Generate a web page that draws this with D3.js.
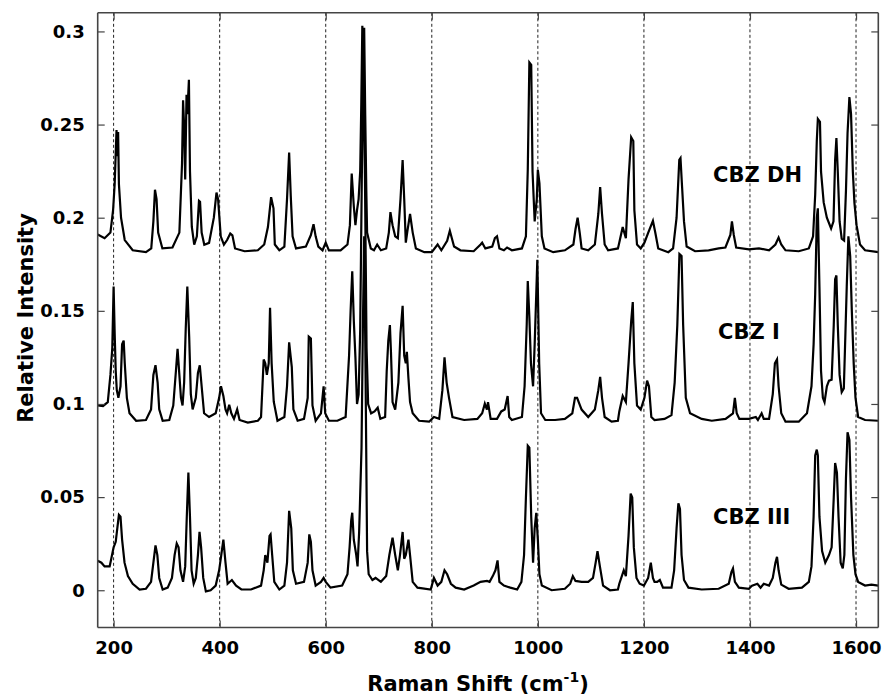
<!DOCTYPE html>
<html><head><meta charset="utf-8">
<script src="https://cdn.jsdelivr.net/npm/d3@7"></script>
<style>
body{margin:0;background:#fff;}
text{font-family:"DejaVu Sans",sans-serif;font-weight:bold;fill:#000;}
</style></head>
<body>
<svg id="chart" width="884" height="695"></svg>
<script>
const xTicks = [200,400,600,800,1000,1200,1400,1600];
const yTicks = [0,0.05,0.1,0.15,0.2,0.25,0.3];
const yTickLabels = ["0","0.05","0.1","0.15","0.2","0.25","0.3"];
const seriesNames = ["CBZ DH","CBZ I","CBZ III"];
const labelPos = [[713,0.2232],[718,0.139],[713,0.0395]]; // [x-pixel-left, y-value] anchor of label text

const cbzDH = [[170,0.191],[183,0.189],[194,0.192],[199,0.204],[202,0.218],[204,0.235],[205.5,0.247],[207,0.233],[208.5,0.246],[210,0.218],[214,0.2],[221,0.188],[236,0.1825],[261,0.1815],[271,0.1835],[275,0.198],[278,0.215],[281,0.21],[284,0.192],[292,0.1835],[311,0.184],[324,0.192],[329,0.229],[331,0.263],[333,0.249],[335,0.2205],[337.5,0.266],[339,0.2555],[342,0.274],[344,0.225],[347.5,0.195],[352,0.1855],[357,0.19],[361,0.209],[363,0.2085],[366,0.192],[371,0.1855],[380,0.1865],[389,0.2],[394,0.2135],[397,0.21],[402,0.19],[408,0.1855],[414,0.188],[420,0.1915],[424,0.1905],[429,0.1835],[447,0.182],[472,0.1825],[484,0.1856],[491,0.195],[497,0.211],[501.5,0.205],[504,0.1856],[512.5,0.1825],[522,0.1845],[527,0.21],[531,0.235],[534,0.212],[537.5,0.19],[544,0.1835],[562.5,0.1845],[572,0.1907],[577,0.1965],[581,0.19],[586,0.1845],[594,0.1825],[600,0.1866],[606,0.1825],[628,0.1825],[641,0.1856],[645.6,0.196],[649,0.2237],[653,0.206],[656,0.196],[659,0.204],[662,0.21],[665,0.225],[667,0.26],[669,0.303],[671,0.29],[672.5,0.302],[674.5,0.255],[676.5,0.215],[678,0.192],[685,0.1835],[691,0.1825],[697,0.1856],[704,0.1825],[714,0.1835],[719,0.192],[722,0.203],[726,0.196],[731,0.19],[736,0.189],[741,0.21],[745,0.231],[748,0.21],[751,0.1866],[754,0.1928],[759,0.202],[764,0.192],[770,0.1835],[786,0.1815],[800,0.1815],[811,0.1856],[818,0.1825],[829,0.1876],[834,0.193],[842,0.1845],[854,0.1825],[879,0.182],[892,0.1856],[895,0.1866],[901,0.1835],[914,0.1845],[919,0.189],[923,0.19],[927.5,0.1835],[936,0.1825],[942,0.184],[951,0.1825],[970,0.1835],[977.5,0.19],[981,0.2257],[984,0.2833],[987.5,0.282],[990,0.2247],[994,0.198],[998,0.21],[1000,0.2257],[1003,0.2185],[1007.5,0.19],[1012.5,0.1835],[1029,0.1815],[1051,0.1825],[1067,0.1856],[1071,0.1938],[1075,0.2],[1079,0.1918],[1082.5,0.1835],[1095,0.1825],[1107.5,0.1856],[1114,0.202],[1117.5,0.2165],[1121,0.202],[1126,0.1856],[1132.5,0.1825],[1151,0.1835],[1153.5,0.1866],[1160,0.195],[1166,0.189],[1171,0.2206],[1176,0.2432],[1180,0.2412],[1182,0.204],[1187,0.1856],[1194,0.1835],[1201,0.1866],[1208,0.1918],[1217,0.1983],[1221.6,0.1918],[1227,0.1835],[1246,0.1815],[1255,0.1835],[1261.6,0.2],[1266.7,0.231],[1269,0.232],[1272,0.2165],[1275.6,0.198],[1280.6,0.1845],[1296.5,0.182],[1322,0.1825],[1341,0.1835],[1353.7,0.184],[1363,0.1907],[1366,0.198],[1369.5,0.1907],[1374,0.184],[1398,0.183],[1417,0.1835],[1436,0.1825],[1448,0.1856],[1454,0.1893],[1459,0.1856],[1467,0.1825],[1492,0.182],[1511,0.1835],[1519,0.19],[1523,0.2123],[1526,0.2412],[1528,0.253],[1532,0.2514],[1534,0.2247],[1539,0.2082],[1545,0.2],[1553,0.1942],[1557.5,0.198],[1560.6,0.231],[1563,0.2428],[1565.6,0.2247],[1569,0.198],[1573,0.1887],[1577.5,0.1877],[1581,0.2144],[1584,0.2453],[1587.5,0.2648],[1590.6,0.2556],[1594,0.2247],[1597,0.208],[1601,0.196],[1607.5,0.1856],[1617,0.1825],[1642,0.1815]];

const cbzI = [[170,0.0992],[180,0.0988],[189,0.101],[194,0.1156],[197.5,0.13],[200,0.163],[202,0.138],[204,0.1177],[206,0.1074],[209,0.1033],[213,0.1095],[216,0.132],[219,0.134],[221,0.122],[225,0.1033],[230,0.095],[242.5,0.091],[261,0.0914],[270.6,0.0971],[275,0.1156],[279,0.1208],[283,0.1115],[286,0.0971],[292.5,0.091],[305,0.0914],[312.5,0.0992],[317.5,0.1177],[320.6,0.1296],[324,0.1156],[327,0.1033],[330,0.0992],[333,0.1115],[336,0.1403],[339,0.163],[342.5,0.1362],[345.6,0.1053],[349,0.0971],[355,0.1033],[359,0.1167],[362.5,0.1208],[366,0.1095],[370.6,0.095],[380,0.093],[392.5,0.095],[399,0.1033],[402.5,0.1095],[407,0.1043],[411,0.0971],[414,0.095],[418,0.0996],[422,0.095],[427,0.092],[433,0.0971],[437.5,0.0914],[453,0.09],[472,0.091],[478,0.093],[483,0.1239],[486,0.1218],[489,0.1156],[492.5,0.1218],[495,0.1516],[498,0.1218],[502,0.1012],[509,0.091],[522,0.093],[527,0.1095],[531,0.1331],[536,0.1198],[539,0.0971],[547,0.091],[559,0.092],[566,0.1033],[568,0.1362],[572,0.1352],[575,0.0992],[581,0.091],[591,0.095],[596,0.1095],[599,0.095],[606,0.091],[622,0.091],[637.5,0.093],[644,0.1259],[647,0.1506],[650,0.1712],[653,0.1444],[656,0.125],[659,0.1],[662,0.105],[665,0.14],[668,0.22],[671,0.29],[674,0.22],[677,0.13],[680,0.1],[685.6,0.095],[692,0.096],[698,0.098],[703,0.092],[712,0.093],[715,0.1177],[718,0.134],[721,0.1424],[723,0.128],[726,0.101],[731,0.097],[737,0.1115],[741,0.138],[745,0.1527],[748,0.126],[751,0.1218],[753,0.128],[756,0.1136],[759,0.101],[764,0.095],[776,0.091],[795,0.0905],[804,0.093],[814,0.092],[820,0.1074],[824,0.125],[828,0.1115],[832.5,0.1033],[839,0.093],[861,0.0914],[886,0.092],[895,0.095],[900,0.1002],[904,0.097],[906,0.101],[911,0.092],[923,0.092],[931,0.096],[937.5,0.097],[943,0.1043],[946,0.093],[951,0.0914],[970,0.093],[975,0.1095],[979,0.1424],[981,0.166],[984,0.1465],[987,0.1218],[991,0.1095],[994,0.132],[997,0.159],[999,0.1774],[1002.5,0.1218],[1006,0.095],[1014,0.0914],[1032.5,0.0914],[1051,0.092],[1065,0.095],[1070,0.1033],[1074,0.1033],[1082.5,0.097],[1095,0.093],[1107.5,0.097],[1114,0.1074],[1117.5,0.1146],[1121,0.1033],[1126,0.093],[1139,0.0905],[1151,0.091],[1153.6,0.096],[1160,0.1043],[1166,0.101],[1171,0.1218],[1176,0.1444],[1179,0.1547],[1182,0.1218],[1187,0.0992],[1194,0.097],[1201,0.1033],[1206,0.1125],[1209.5,0.1095],[1214,0.093],[1220,0.0914],[1239,0.092],[1252,0.094],[1258,0.1115],[1263,0.1424],[1267,0.1805],[1271,0.1794],[1274,0.1424],[1279,0.1033],[1287,0.095],[1309,0.092],[1328,0.091],[1354,0.092],[1368,0.095],[1371.5,0.1033],[1375,0.095],[1380,0.092],[1398,0.092],[1411,0.093],[1415,0.0914],[1422,0.095],[1426,0.092],[1436,0.092],[1443,0.1053],[1447,0.1218],[1451,0.1239],[1454,0.1095],[1459,0.095],[1467,0.0905],[1492,0.0905],[1507.5,0.095],[1516,0.1095],[1520,0.132],[1523,0.159],[1526,0.2],[1528,0.205],[1531,0.163],[1534,0.1177],[1537.5,0.1033],[1540.6,0.101],[1545,0.1095],[1549,0.1125],[1554,0.113],[1558,0.1424],[1560.6,0.167],[1563,0.169],[1565.6,0.1424],[1569,0.1156],[1573,0.1064],[1577,0.1084],[1579,0.128],[1582.5,0.163],[1585.6,0.19],[1589,0.1794],[1592,0.1506],[1595.6,0.1218],[1599,0.1033],[1604,0.093],[1617,0.0914],[1642,0.091]];

const cbzIII = [[170,0.0158],[177,0.0148],[183,0.0128],[192.5,0.0128],[195.6,0.0169],[200,0.023],[204,0.026],[207,0.0333],[210,0.0405],[213,0.0395],[216,0.0272],[220.6,0.0148],[227,0.0076],[236,0.0035],[249,0.0004],[261,0.0008],[270.6,0.0045],[275,0.0148],[279,0.0241],[282.5,0.0189],[286,0.0066],[292.5,0.0004],[302,0.0014],[310,0.0066],[315,0.0189],[319,0.0251],[322.5,0.023],[326,0.0107],[331,0.0045],[335,0.0128],[338,0.0395],[341,0.0632],[344,0.0395],[347,0.0107],[351,0.0035],[355,0.0066],[359,0.0189],[362,0.0313],[365,0.023],[369,0.0066],[374,-0.0006],[383,0],[392.5,0.0025],[399,0.0107],[403,0.0189],[407,0.0272],[411,0.0148],[415,0.0035],[423,0.0055],[431,0.0025],[441,0.0004],[459,0.0004],[478,0.0025],[483,0.0107],[486,0.0189],[490,0.0148],[494,0.0292],[496,0.03],[499,0.0189],[503,0.0045],[512.5,0.0004],[522,0.0025],[527,0.0148],[531,0.0426],[535,0.0333],[538,0.0107],[544,0.0035],[559,0.0045],[566,0.0148],[569,0.03],[572,0.026],[575,0.0107],[581,0.0025],[591,0.0045],[596,0.0066],[600,0.0045],[609,0.0014],[631,0.0025],[641,0.0086],[645,0.023],[648,0.0374],[650,0.0416],[653,0.027],[657.5,0.019],[660,0.0128],[663,0.0313],[667.5,0.0765],[670,0.14],[672.5,0.19],[675,0.12],[678,0.021],[681,0.0086],[688,0.0055],[694,0.0066],[704,0.0045],[714,0.0076],[720,0.0189],[726,0.0282],[731,0.0189],[736,0.0107],[740,0.0189],[745,0.0313],[748,0.0169],[751,0.0189],[756,0.0272],[759,0.0189],[764,0.0045],[773,0.0014],[798,0.0004],[804,0.0066],[811,0.0025],[818,0.0045],[824,0.0107],[829,0.0086],[836,0.0035],[845,0.0014],[861,0.0004],[879,0.0025],[892,0.0045],[904,0.005],[909,0.0045],[915,0.0076],[920,0.0107],[924,0.016],[927.5,0.0045],[936,0.0025],[948,0.0014],[961,0.0004],[969,0.0045],[974,0.0189],[977.5,0.0498],[981,0.0776],[984,0.0765],[987.5,0.0395],[991,0.0148],[994,0.0333],[997,0.0416],[1000,0.0272],[1003,0.0086],[1007.5,0.0025],[1026,0],[1051,0.0008],[1061,0.0035],[1066,0.0076],[1071,0.005],[1082.5,0.0045],[1095,0.0045],[1104,0.0066],[1109,0.0148],[1112.5,0.021],[1117,0.0128],[1123,0.0025],[1136,0],[1151,0.0004],[1153.6,0.0035],[1162,0.0107],[1166,0.0076],[1171,0.0292],[1175,0.0519],[1178,0.0498],[1181,0.023],[1186,0.0066],[1192,0.0035],[1200,0.0025],[1208,0.0066],[1213,0.0148],[1217,0.0066],[1220,0.0045],[1225,0.0045],[1230,0.0055],[1236,0.0014],[1252,0.0014],[1257,0.0107],[1261.6,0.0333],[1265,0.0467],[1268,0.0436],[1271,0.0189],[1275.6,0.0055],[1284,0.0014],[1309,0.0004],[1341,0.0008],[1360,0.0035],[1365,0.0097],[1368,0.0117],[1371.6,0.0045],[1379,0.0014],[1398,0.0008],[1404,0.0025],[1414,0.0035],[1420,0.0014],[1426,0.0035],[1436,0.0025],[1443,0.0066],[1448,0.0148],[1451,0.0179],[1454,0.0107],[1459,0.003],[1473,0.0008],[1498,0.0014],[1511,0.0045],[1516,0.0128],[1520,0.0395],[1523,0.0724],[1526,0.0755],[1528,0.0724],[1531,0.0395],[1536,0.021],[1542,0.0148],[1549,0.0189],[1554,0.023],[1558,0.0498],[1560.6,0.0683],[1564,0.0632],[1567,0.0395],[1571,0.0148],[1575,0.0117],[1578,0.0189],[1581,0.06],[1584,0.0848],[1587.5,0.0807],[1590.6,0.0498],[1595,0.0189],[1599,0.0086],[1604,0.0045],[1617,0.0025],[1629,0.003],[1642,0.0025]];

const series = [cbzDH, cbzI, cbzIII];

const svg = d3.select("#chart");
const L = 97.7, R = 878.3, T = 12.8, B = 627.5;
const x = d3.scaleLinear().domain([170, 1642]).range([L, R]);
const y = d3.scaleLinear().domain([-0.02, 0.31]).range([B, T]);

// grid
svg.append("g").selectAll("line").data(xTicks).join("line")
  .attr("x1", d => x(d)).attr("x2", d => x(d))
  .attr("y1", T).attr("y2", B)
  .attr("stroke", "#222").attr("stroke-width", 1).attr("stroke-dasharray", "3,2.5");

// spectra
const line = d3.line().x(d => x(d[0])).y(d => y(d[1]));
svg.append("g").selectAll("path").data(series).join("path")
  .attr("d", line).attr("fill", "none").attr("stroke", "#000")
  .attr("stroke-width", 2.2).attr("stroke-linejoin", "miter");

// axes (box with inward ticks)
const fmt = (d) => yTickLabels[yTicks.indexOf(d)];
const axL = d3.axisLeft(y).tickValues(yTicks).tickSize(-7).tickPadding(13).tickFormat(fmt);
const axR = d3.axisRight(y).tickValues(yTicks).tickSize(-7).tickFormat("");
const axB = d3.axisBottom(x).tickValues(xTicks).tickSize(-7).tickPadding(14).tickFormat(d3.format("d"));
const axT = d3.axisTop(x).tickValues(xTicks).tickSize(-7).tickFormat("");
function style(g){
  g.select(".domain").attr("stroke","#444").attr("stroke-width",1.6);
  g.selectAll(".tick line").attr("stroke","#444").attr("stroke-width",1.2);
  g.selectAll("text").attr("font-size",18).attr("font-family","DejaVu Sans").attr("font-weight","bold").attr("fill","#000");
}
svg.append("g").attr("transform",`translate(${L},0)`).call(axL).call(style).call(g=>g.select(".domain").attr("d",`M0,${T}V${B}`));
svg.append("g").attr("transform",`translate(${R},0)`).call(axR).call(style).call(g=>g.select(".domain").attr("d",`M0,${T}V${B}`));
svg.append("g").attr("transform",`translate(0,${B})`).call(axB).call(style).call(g=>g.select(".domain").attr("d",`M${L},0H${R}`));
svg.append("g").attr("transform",`translate(0,${T})`).call(axT).call(style).call(g=>g.select(".domain").attr("d",`M${L},0H${R}`));

// series labels
svg.append("g").selectAll("text").data(seriesNames).join("text")
  .attr("x", (d,i) => labelPos[i][0]).attr("y", (d,i) => y(labelPos[i][1]))
  .attr("dy","0.36em").attr("font-size",21).text(d => d);

// axis titles
const xt = svg.append("text").attr("x", 478).attr("y", 691).attr("text-anchor","middle").attr("font-size",21);
xt.append("tspan").text("Raman Shift (cm");
xt.append("tspan").attr("font-size",14).attr("dy",-9).text("-1");
xt.append("tspan").attr("dy",9).text(")");
svg.append("text").attr("transform","translate(33,318) rotate(-90)")
  .attr("text-anchor","middle").attr("font-size",21).text("Relative Intensity");
</script>
</body></html>
